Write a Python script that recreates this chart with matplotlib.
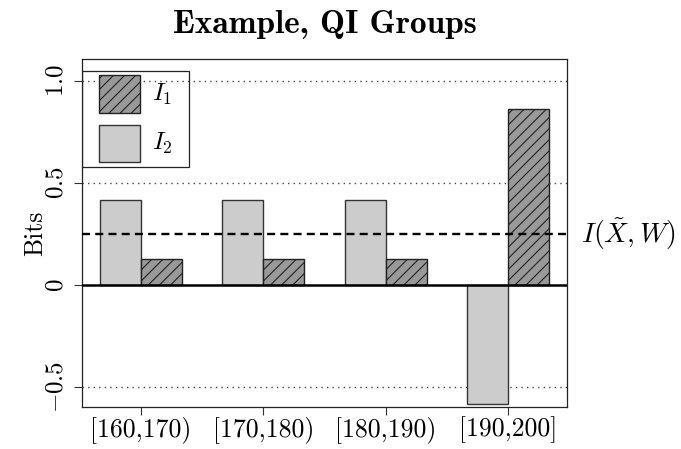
import numpy as np
import matplotlib
matplotlib.use("Agg")
import matplotlib.pyplot as plt
from matplotlib.patches import Rectangle
import matplotlib.transforms as mtransforms

plt.rcParams["font.family"] = "serif"
plt.rcParams["font.serif"] = ["cmr10"]
plt.rcParams["mathtext.fontset"] = "cm"
plt.rcParams["axes.unicode_minus"] = False
plt.rcParams["hatch.linewidth"] = 0.8

# QI group bins and information (bits) per group
groups = ["[160,170)", "[170,180)", "[180,190)", "[190,200]"]
i1_bits = [0.127, 0.127, 0.127, 0.863]
i2_bits = [0.417, 0.417, 0.417, -0.583]
mutual_info = 0.25
y_ticks = [-0.5, 0.0, 0.5, 1.0]
y_tick_labels = [r"$-0.5$", r"$0$", r"$0.5$", r"$1.0$"]

fig = plt.figure(figsize=(6.81, 4.49), dpi=100)
ax = fig.add_axes([82 / 681, 1 - 407 / 449, 485 / 681, 348 / 449])

# barplot(beside=TRUE) layout: bars of width 1, one unit gap before each group
g = np.arange(len(groups))
left_i2 = 1 + 3 * g
left_i1 = 2 + 3 * g

# reference lines
for yv in [-0.5, 0.5, 1.0]:
    ax.axhline(yv, color="#444444", lw=1.0, ls=(0, (1, 3)), zorder=1)

ax.bar(left_i2, i2_bits, width=1, align="edge", color="#cccccc",
       edgecolor="#333333", linewidth=1.0, zorder=2)
ax.bar(left_i1, i1_bits, width=1, align="edge", color="#999999",
       edgecolor="#222222", linewidth=1.0, hatch="///", zorder=2)

ax.axhline(0, color="black", lw=1.8, zorder=3)
ax.axhline(mutual_info, color="black", lw=1.7, ls=(0, (3.4, 2.2)), zorder=3)

trans = mtransforms.blended_transform_factory(ax.transAxes, ax.transData)
ax.text(1.029, mutual_info, r"$I(\tilde{X},W)$", transform=trans,
        fontsize=20, va="center", ha="left", clip_on=False)

ax.set_xlim(0.56, 12.44)
ax.set_ylim(-0.598, 1.108)
ax.set_xticks(2 + 3 * g)
ax.set_xticklabels(groups, fontsize=18.5)
ax.set_yticks(y_ticks)
ax.set_yticklabels(y_tick_labels, fontsize=18, rotation=90, va="center")
ax.tick_params(axis="both", direction="out", length=5.5, width=0.8, color="#333333")
ax.tick_params(axis="x", pad=1)
ax.tick_params(axis="y", pad=5)
for s in ax.spines.values():
    s.set_linewidth(0.9)
    s.set_color("#222222")

ax.set_ylabel("Bits", fontsize=18.5, labelpad=-1.5)
ax.set_title("Example, QI Groups", fontsize=24, fontfamily="cmb10", pad=19)

# legend box, drawn in axes coordinates
ax.add_patch(Rectangle((0, 0.6897), 0.2206, 0.2758, transform=ax.transAxes,
                       fill=False, edgecolor="#222222", lw=0.9, zorder=4))
ax.add_patch(Rectangle((0.0351, 0.845), 0.0845, 0.109, transform=ax.transAxes,
                       facecolor="#999999", edgecolor="#222222", lw=1.0,
                       hatch="///", zorder=4))
ax.add_patch(Rectangle((0.0351, 0.704), 0.0845, 0.106, transform=ax.transAxes,
                       facecolor="#cccccc", edgecolor="#333333", lw=1.0, zorder=4))
ax.text(0.145, 0.899, r"$I_1$", transform=ax.transAxes, fontsize=18,
        va="center", ha="left", zorder=5)
ax.text(0.145, 0.757, r"$I_2$", transform=ax.transAxes, fontsize=18,
        va="center", ha="left", zorder=5)

fig.savefig("out.png", dpi=100)
